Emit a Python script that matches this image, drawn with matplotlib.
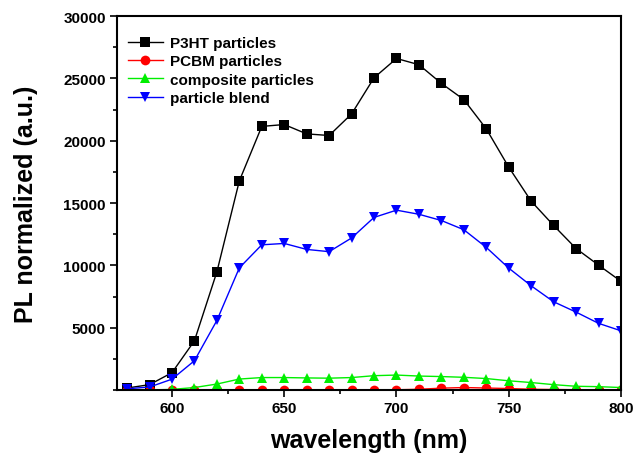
import matplotlib
matplotlib.use("Agg")
import matplotlib.pyplot as plt
from matplotlib.ticker import MultipleLocator, FixedLocator

plt.rcParams['font.family'] = ['Liberation Sans', 'DejaVu Sans']
plt.rcParams['font.weight'] = 'bold'

wavelength = [580, 590, 600, 610, 620, 630, 640, 650, 660, 670, 680, 690,
              700, 710, 720, 730, 740, 750, 760, 770, 780, 790, 800]

p3ht = [160, 430, 1390, 3950, 9480, 16780, 21150, 21300, 20550, 20420, 22150, 25050,
        26600, 26100, 24600, 23300, 20950, 17880, 15150, 13200, 11350, 10020, 8720]

pcbm = [0, 0, 0, 0, 10, 10, 10, 10, 10, 10, 10, 10,
        20, 60, 150, 200, 160, 120, 60, 40, 25, 15, 10]

composite = [0, 0, 50, 200, 480, 880, 1000, 1000, 970, 950, 1000, 1150,
             1200, 1120, 1080, 1020, 920, 740, 600, 430, 300, 270, 200]

blend = [100, 240, 870, 2350, 5580, 9800, 11650, 11760, 11280, 11100, 12200, 13850,
         14430, 14100, 13600, 12860, 11440, 9780, 8360, 7080, 6250, 5350, 4750]

series = [
    ("P3HT particles", p3ht, "black", "s"),
    ("PCBM particles", pcbm, "red", "o"),
    ("composite particles", composite, "#00ee00", "^"),
    ("particle blend", blend, "blue", "v"),
]

fig = plt.figure(figsize=(6.34, 4.56), dpi=100)
ax = fig.add_axes([0.1845, 0.1425, 0.795, 0.820])

for label, values, color, marker in series:
    ax.plot(wavelength, values, color=color, marker=marker, markersize=7,
            linewidth=1.0, label=label, markeredgewidth=0)

ax.set_xlim(575.5, 800)
ax.set_ylim(0, 30000)

ax.xaxis.set_major_locator(MultipleLocator(50))
ax.xaxis.set_minor_locator(MultipleLocator(25))
ax.yaxis.set_major_locator(FixedLocator([5000, 10000, 15000, 20000, 25000, 30000]))
ax.yaxis.set_minor_locator(MultipleLocator(2500))

ax.tick_params(which='both', direction='out', top=False, right=False, width=1.2)
ax.tick_params(which='major', length=5, labelsize=11, pad=3)
ax.tick_params(which='minor', length=3)
for lbl in ax.get_xticklabels() + ax.get_yticklabels():
    lbl.set_fontweight('bold')

for sp in ax.spines.values():
    sp.set_linewidth(1.5)

ax.set_xlabel("wavelength (nm)", fontsize=18, fontweight='bold', labelpad=9)
ax.set_ylabel("PL normalized (a.u.)", fontsize=18, fontweight='bold', labelpad=18)

leg = ax.legend(loc='upper left', bbox_to_anchor=(0.0, 0.975), frameon=False,
                fontsize=11, handlelength=2.3, handletextpad=0.45,
                labelspacing=0.28, borderaxespad=0.3)
for t in leg.get_texts():
    t.set_fontweight('bold')

fig.savefig("out.png", dpi=100)
